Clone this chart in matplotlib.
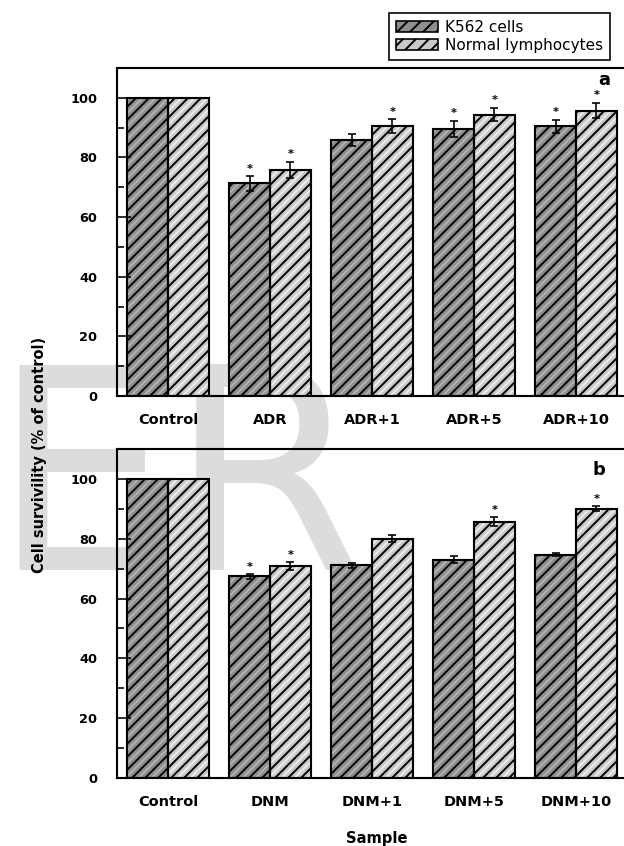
import matplotlib
matplotlib.use("Agg")
import matplotlib.pyplot as plt
from matplotlib.patches import Patch
import numpy as np

# data
groups_a = ["Control", "ADR", "ADR+1", "ADR+5", "ADR+10"]
k562_a = [100, 71.3, 85.8, 89.5, 90.4]
k562_a_err = [0, 2.4, 2.0, 2.8, 2.2]
normal_a = [100, 75.8, 90.6, 94.4, 95.7]
normal_a_err = [0, 2.7, 2.3, 2.2, 2.6]
k562_a_star = [0, 1, 0, 1, 1]
normal_a_star = [0, 1, 1, 1, 1]

groups_b = ["Control", "DNM", "DNM+1", "DNM+5", "DNM+10"]
k562_b = [100, 67.4, 71.1, 73.0, 74.7]
k562_b_err = [0, 0.8, 0.8, 1.1, 0.6]
normal_b = [100, 70.8, 80.0, 85.6, 90.0]
normal_b_err = [0, 1.3, 1.1, 1.5, 0.8]
k562_b_star = [0, 1, 0, 0, 0]
normal_b_star = [0, 1, 0, 1, 1]

series_names = ["K562 cells", "Normal lymphocytes"]

DPI = 117
plt.rcParams["font.family"] = ["DejaVu Sans"]
plt.rcParams["font.weight"] = "bold"
plt.rcParams["hatch.linewidth"] = 1.2

dark, dark_stripe = "#8e8e8e", "#b2b2b2"
light, light_stripe = "#c9c9c9", "#ececec"
w = 0.40

fig = plt.figure(figsize=(624 / DPI, 846 / DPI), dpi=DPI)

# watermark behind everything
fig.text(-9 / 624, 1 - 570 / 846, "ER", fontsize=173, color="#dcdcdc",
         fontweight="normal", ha="left", va="baseline", zorder=-1)

ax1 = fig.add_axes([117 / 624, 1 - 396 / 846, 510 / 624, 328 / 846])
ax2 = fig.add_axes([117 / 624, 1 - 778 / 846, 510 / 624, 329 / 846])


def draw_bars(ax, pos, vals, errs, stars, face, stripe):
    ax.bar(pos, vals, w, color=face, edgecolor=stripe, linewidth=0,
           hatch="//////", zorder=1)
    ax.bar(pos, vals, w, facecolor="none", edgecolor="black", linewidth=1.3,
           hatch="///", zorder=2)
    ax.errorbar(pos, vals, yerr=errs, fmt="none", ecolor="black",
                elinewidth=1, capsize=2.5, capthick=1, zorder=3)
    for p, v, e, s in zip(pos, vals, errs, stars):
        if s:
            ax.text(p, v + e + 1.5, "*", ha="center", va="baseline",
                    fontsize=7, zorder=4)


panels = [
    (ax1, groups_a, k562_a, k562_a_err, k562_a_star,
     normal_a, normal_a_err, normal_a_star, "a", 0.955, 0.948),
    (ax2, groups_b, k562_b, k562_b_err, k562_b_star,
     normal_b, normal_b_err, normal_b_star, "b", 0.945, 0.921),
]

for (ax, groups, k, ke, ks, n, ne, ns, letter, lx, ly) in panels:
    x = np.arange(len(groups))
    draw_bars(ax, x - w / 2, k, ke, ks, dark, dark_stripe)
    draw_bars(ax, x + w / 2, n, ne, ns, light, light_stripe)
    ax.set_facecolor("none")
    ax.set_xlim(-0.5, 4.5)
    ax.set_ylim(0, 110)
    ax.set_xticks(x, groups)
    ax.set_yticks(np.arange(0, 101, 20))
    ax.set_yticks(np.arange(10, 100, 20), minor=True)
    ax.tick_params(axis="x", length=0, pad=10.5, labelsize=8.9)
    ax.tick_params(axis="y", which="major", direction="in", length=8.6,
                   width=1, pad=12, labelsize=7.9)
    ax.tick_params(axis="y", which="minor", direction="in", length=4.3,
                   width=1)
    for sp in ax.spines.values():
        sp.set_linewidth(1.3)
    ax.text(lx, ly, letter, transform=ax.transAxes, ha="center",
            va="baseline", fontsize=11)

fig.text(40 / 624, 1 - 455 / 846, "Cell survivility (% of control)",
         rotation=90, ha="center", va="center", fontsize=9)
fig.text(377 / 624, 1 - 838 / 846, "Sample", ha="center", va="center",
         fontsize=9.1)

handles = [Patch(facecolor=dark, edgecolor="black", hatch="///"),
           Patch(facecolor=light, edgecolor="black", hatch="///")]
leg = fig.legend(handles, series_names, loc="upper left",
                 bbox_to_anchor=(389 / 624, 1 - 13 / 846), frameon=True,
                 fancybox=False, edgecolor="black", framealpha=1,
                 prop={"weight": "normal", "size": 9.4},
                 handlelength=2.75, handleheight=0.78, handletextpad=0.45,
                 borderpad=0.45, labelspacing=0.2, borderaxespad=0)
leg.get_frame().set_linewidth(1.0)

fig.savefig("out.png", dpi=DPI)
